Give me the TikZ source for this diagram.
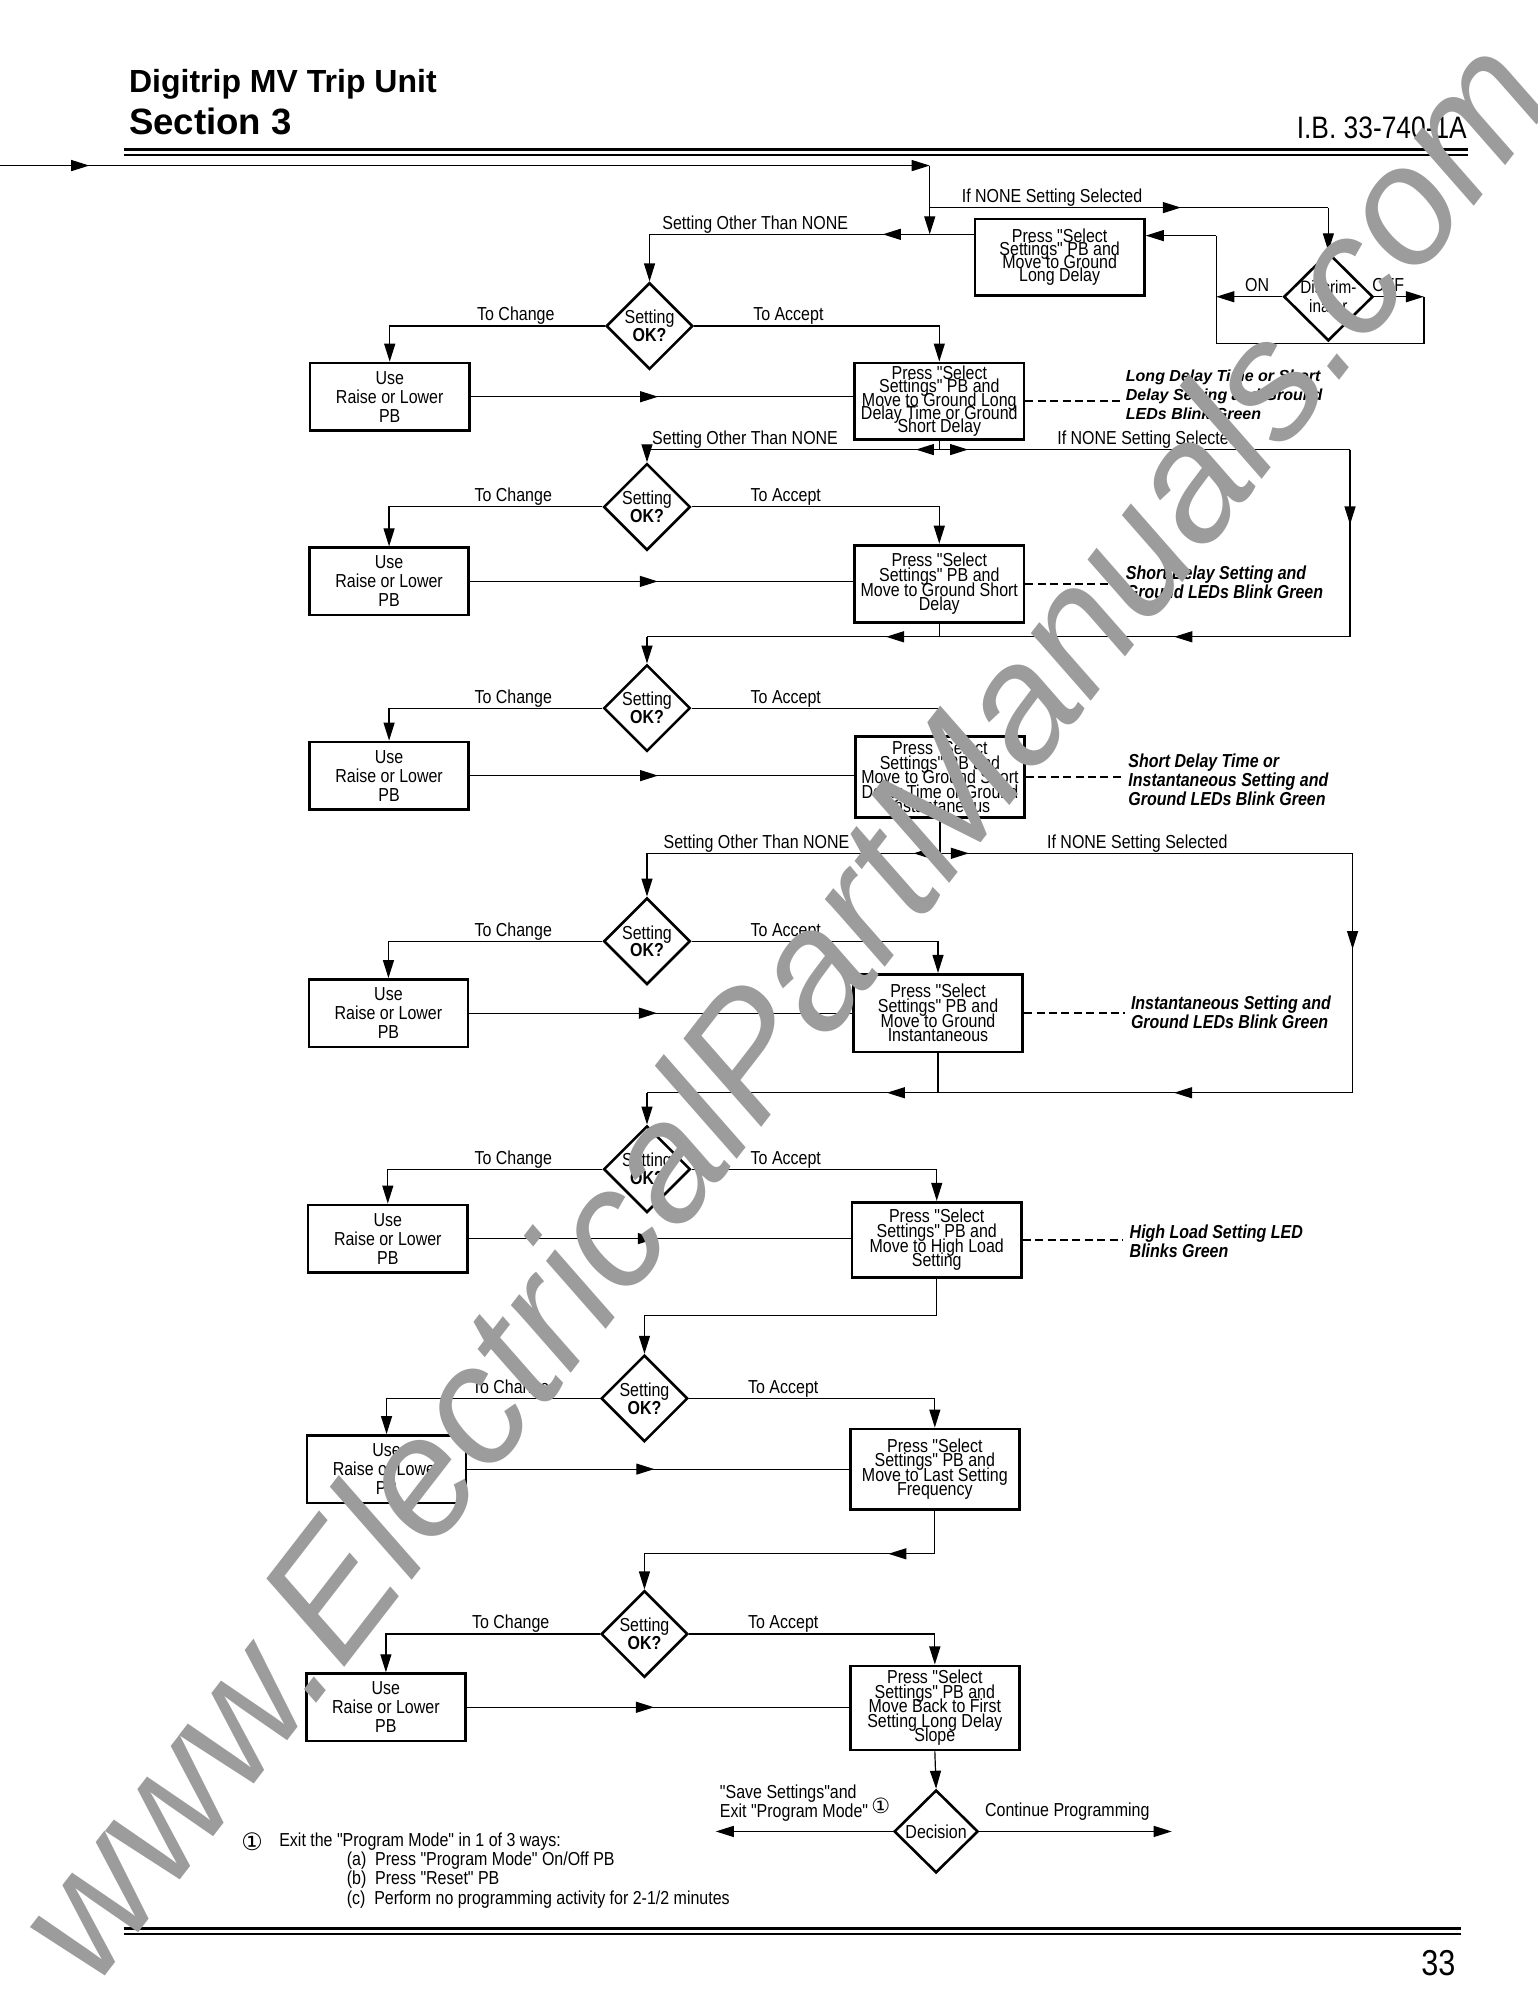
\documentclass[tikz,border=0pt]{standalone}
\usepackage{fontspec}
\setmainfont{Liberation Sans}
\newfontfamily\cond[FakeStretch=0.85]{Liberation Sans}
\newfontfamily\dejavu{DejaVu Sans}
\usetikzlibrary{shapes.geometric,arrows.meta,decorations.markings,calc}
\newcommand\lblfont{\cond\fontsize{9.4}{10}\selectfont}
\newcommand\tightls{\lineskiplimit=-50pt\relax}
\newcommand\pfont{\cond\fontsize{9.4}{7.3}\selectfont\tightls}
\newcommand\ptfont{\cond\fontsize{9.4}{6.6}\selectfont\tightls}
\newcommand\ufont{\cond\fontsize{9.4}{9.5}\selectfont\tightls}
\newcommand\dfont{\cond\fontsize{9.4}{8.9}\selectfont\tightls}
\newcommand\discfont{\cond\fontsize{9}{9.5}\selectfont\tightls}
\begin{document}
\begin{tikzpicture}[x=0.6366pt,y=-0.6366pt,
  >={Triangle[length=9pt,width=5.5pt]},
  conn/.style={line width=0.6pt},
  arr/.style={conn,->},
  midarr/.style={postaction={decorate},decoration={markings,mark=at position #1 with {\arrow{>}}}},
  twoarr/.style 2 args={postaction={decorate},decoration={markings,mark=at position #1 with {\arrow{>}},mark=at position #2 with {\arrow{>}}}},
  pbox/.style={draw,line width=1.4pt,align=center,inner sep=0pt,minimum width=84.7pt,minimum height=#1,font=\pfont},
  pboxt/.style={pbox=#1,font=\ptfont},
  ubox/.style={draw,line width=1.3pt,align=center,inner sep=0pt,minimum width=79.6pt,minimum height=33.7pt,font=\ufont},
  okd/.style={draw,diamond,line width=1.3pt,aspect=1,inner sep=0pt,minimum width=43.3pt,minimum height=43.3pt,align=center,font=\dfont},
  lbl/.style={font=\lblfont,inner sep=0pt,anchor=base},
  notec/.style={font=\cond\bfseries\itshape\fontsize{9.4}{9.5}\selectfont,align=left,anchor=west,inner sep=3pt},
  dashc/.style={line width=1.2pt,dash pattern=on 4pt off 2.2pt},
]
\useasboundingbox (0,0) rectangle (1207,1568);

% ---------- header ----------
\node[anchor=base west,inner sep=0pt,font=\bfseries\fontsize{16}{16}\selectfont] (t1) at (101,73) {Digitrip MV Trip Unit};
\node[anchor=base west,inner sep=0pt,font=\bfseries\fontsize{18.3}{18}\selectfont] (t2) at (101,106) {Section 3};
\node[anchor=base east,inner sep=0pt,font=\cond\fontsize{15.5}{16}\selectfont] (ib) at (1152,109) {I.B. 33-740-1A};
\draw[line width=1.5pt] (97,117.5) -- (1153,117.5);
\draw[line width=1.1pt] (97,121.5) -- (1153,121.5);
\draw[line width=1.5pt] (97,1514.5) -- (1147,1514.5);
\draw[line width=1.1pt] (97,1518.5) -- (1147,1518.5);
\node[anchor=base east,inner sep=0pt,font=\cond\fontsize{18}{18}\selectfont] (pg) at (1143,1551) {33};

% ---------- nodes ----------
\node[pboxt=38.2pt] (b1) at (832,202) {Press "Select\\Settings" PB and\\Move to Ground\\Long Delay};
\node[okd,minimum width=44.6pt,minimum height=42pt,font=\discfont] (disc) at (1043,233) {Discrim-\\inator};

\node[okd] (d1) at (510,256) {Setting\\\textbf{OK?}};
\node[ubox] (u1) at (306,311.5) {Use\\Raise or Lower\\PB};
\node[pboxt=38.2pt] (b2) at (737.5,315) {Press "Select\\Settings" PB and\\Move to Ground Long\\Delay Time or Ground\\Short Delay};

\node[okd] (d2) at (508,398) {Setting\\\textbf{OK?}};
\node[ubox] (u2) at (305.5,456.5) {Use\\Raise or Lower\\PB};
\node[pbox=38.8pt] (b3) at (737.5,458.5) {Press "Select\\Settings" PB and\\Move to Ground Short\\Delay};

\node[okd] (d3) at (508,556) {Setting\\\textbf{OK?}};
\node[ubox] (u3) at (305.5,609) {Use\\Raise or Lower\\PB};
\node[pbox=40.7pt] (b4) at (738,610) {Press "Select\\Settings" PB and\\Move to Ground Short\\Delay Time or Ground\\Instantaneous};

\node[okd] (d4) at (508,739) {Setting\\\textbf{OK?}};
\node[ubox] (u4) at (305,795.5) {Use\\Raise or Lower\\PB};
\node[pbox=38.8pt] (b5) at (736.5,795.5) {Press "Select\\Settings" PB and\\Move to Ground\\Instantaneous};

\node[okd] (d5) at (508,918) {Setting\\\textbf{OK?}};
\node[ubox] (u5) at (304.5,972.5) {Use\\Raise or Lower\\PB};
\node[pbox=37.6pt] (b6) at (735.5,973.5) {Press "Select\\Settings" PB and\\Move to High Load\\Setting};

\node[okd] (d6) at (506,1098) {Setting\\\textbf{OK?}};
\node[ubox] (u6) at (303.5,1153.5) {Use\\Raise or Lower\\PB};
\node[pbox=40.1pt] (b7) at (734,1153.5) {Press "Select\\Settings" PB and\\Move to Last Setting\\Frequency};

\node[okd] (d7) at (506,1283) {Setting\\\textbf{OK?}};
\node[ubox] (u7) at (303,1340.5) {Use\\Raise or Lower\\PB};
\node[pbox=42pt] (b8) at (734,1341) {Press "Select\\Settings" PB and\\Move Back to First\\Setting Long Delay\\Slope};

\node[okd,minimum width=42pt,minimum height=41.4pt] (dec) at (735,1438) {Decision};

% notes
\node[notec,font=\bfseries\itshape\fontsize{8}{9.5}\selectfont] (n1) at (879,310) {Long Delay Time or Short\\Delay Setting and Ground\\LEDs Blink Green};
\node[notec] (n2) at (879,457.5) {Short Delay Setting and\\Ground LEDs Blink Green};
\node[notec] (n3) at (881,612) {Short Delay Time or\\Instantaneous Setting and\\Ground LEDs Blink Green};
\node[notec] (n4) at (883,794.5) {Instantaneous Setting and\\Ground LEDs Blink Green};
\node[notec] (n5) at (882,974.5) {High Load Setting LED\\Blinks Green};

% ---------- coordinates ----------
\coordinate (in0) at (0,130);
\coordinate (c0) at (730,130);
\coordinate (j1) at (730,163);
\coordinate (j0) at (730,184);
\coordinate (lp1) at (955,185);
\coordinate (lp2) at (955,270);
\coordinate (lp3) at (1118,270);
\coordinate (j2) at (737.5,353);
\coordinate (r2) at (1060,353);
\coordinate (r2b) at (1060,500);
\coordinate (j3) at (737.5,500);
\coordinate (j4) at (738,670);
\coordinate (r4) at (1062,670);
\coordinate (r4b) at (1062,858);
\coordinate (j5) at (736.5,858);
\coordinate (j6) at (735.5,1033);
\coordinate (j7) at (734,1220);
\coordinate (ex) at (562,1438);
\coordinate (co) at (920,1438);

% ---------- connectors: top ----------
\draw[arr,midarr=0.096] (in0) -- (c0);
\draw[arr] (c0) -- (j0);
\draw[conn,midarr=0.63] (j1) -- (j1 -| disc.north);
\draw[arr] (j1 -| disc.north) -- (disc.north);
\draw[conn,midarr=0.28] (b1.west |- j0) -- (j0 -| d1.north);
\draw[arr] (j0 -| d1.north) -- (d1.north);
\draw[arr] (disc.west) -- (disc.west -| lp1);
\draw[arr] (disc.east) -- (disc.east -| lp3);
\draw[conn] (disc.east -| lp3) -- (lp3) -- (lp2) -- (lp1);
\draw[arr] (lp1) -- (lp1 -| b1.east);
\node[lbl] at (593,180) {Setting Other Than NONE};
\node[lbl] at (826,159) {If NONE Setting Selected};
\node[lbl] at (987,229) {ON};
\node[lbl] at (1090,229) {OFF};

% ---------- generic section connectors ----------
\foreach \d/\u/\b in {d1/u1/b2,d2/u2/b3,d3/u3/b4,d4/u4/b5,d5/u5/b6,d6/u6/b7,d7/u7/b8}{
  \draw[arr] (\d.west) -| (\u.north);
  \draw[arr] (\d.east) -| (\b.north);
  \draw[conn,midarr=0.49] (\u.east) -- (\u.east -| \b.west);
  \node[lbl] at ($(\d)+(-105,-4)$) {To Change};
  \node[lbl] at ($(\d)+(109,-4)$) {To Accept};
}

% dashed note leaders
\draw[dashc] (b2.east) -- (b2.east -| n1.west);
\draw[dashc] (b3.east) -- (b3.east -| n2.west);
\draw[dashc] (b4.east) -- (b4.east -| n3.west);
\draw[dashc] (b5.east) -- (b5.east -| n4.west);
\draw[dashc] (b6.east) -- (b6.east -| n5.west);

% section 2 routing
\draw[conn] (b2.south) -- (j2);
\draw[conn,midarr=0.08] (j2) -- (j2 -| d2.north);
\draw[arr] (j2 -| d2.north) -- (d2.north);
\draw[conn,midarr=0.07] (j2) -- (r2);
\draw[conn,midarr=0.4] (r2) -- (r2b);
\draw[conn,twoarr={0.25}{0.66}] (r2b) -- (r2b -| d3.north);
\draw[conn] (b3.south) -- (j3);
\draw[arr] (r2b -| d3.north) -- (d3.north);
\node[lbl] at (585,349) {Setting Other Than NONE};
\node[lbl] at (901,349) {If NONE Setting Selected};

% section 4 routing
\draw[conn] (b4.south) -- (j4);
\draw[conn,midarr=0.09] (j4) -- (j4 -| d4.north);
\draw[arr] (j4 -| d4.north) -- (d4.north);
\draw[conn,midarr=0.07] (j4) -- (r4);
\draw[conn,midarr=0.4] (r4) -- (r4b);
\draw[conn,twoarr={0.253}{0.66}] (r4b) -- (r4b -| d5.north);
\draw[conn] (b5.south) -- (j5);
\draw[arr] (r4b -| d5.north) -- (d5.north);
\node[lbl] at (594,666) {Setting Other Than NONE};
\node[lbl] at (893,666) {If NONE Setting Selected};

% section 6 / 7 routing
\draw[arr] (b6.south) -- (j6) -| (d6.north);
\draw[conn] (b7.south) -- (j7);
\draw[conn,midarr=0.16] (j7) -- (j7 -| d7.north);
\draw[arr] (j7 -| d7.north) -- (d7.north);
\draw[arr] (b8.south) -- (dec.north);

% decision
\draw[arr] (dec.west) -- (ex);
\draw[arr] (dec.east) -- (co);
\node[align=left,anchor=west,inner sep=0pt,font=\ufont] (sv) at (565,1416) {"Save Settings"and\\Exit "Program Mode"\,\raisebox{2pt}{\dejavu\fontsize{10.5}{10.5}\selectfont ①}};
\node[lbl] (cp) at (838,1426) {Continue Programming};

% footnote
\node[inner sep=0pt,font=\dejavu\fontsize{12}{12}\selectfont] (fc) at (198,1446) {①};
\node[anchor=base west,inner sep=0pt,font=\lblfont] (f0) at (219,1450) {Exit the "Program Mode" in 1 of 3 ways:};
\node[anchor=base west,inner sep=0pt,font=\lblfont] (fa) at (272,1465) {(a)\ \ Press "Program Mode" On/Off PB};
\node[anchor=base west,inner sep=0pt,font=\lblfont] (fb) at (272,1480) {(b)\ \ Press "Reset" PB};
\node[anchor=base west,inner sep=0pt,font=\lblfont] (fcx) at (272,1495) {(c)\ \ Perform no programming activity for 2-1/2 minutes};

% watermark
\node[rotate=52.3,text=black!39,font=\itshape\fontsize{84}{84}\selectfont,inner sep=0pt] (wm) at (612,790) {www.ElectricalPartManuals.com};
\end{tikzpicture}
\end{document}
